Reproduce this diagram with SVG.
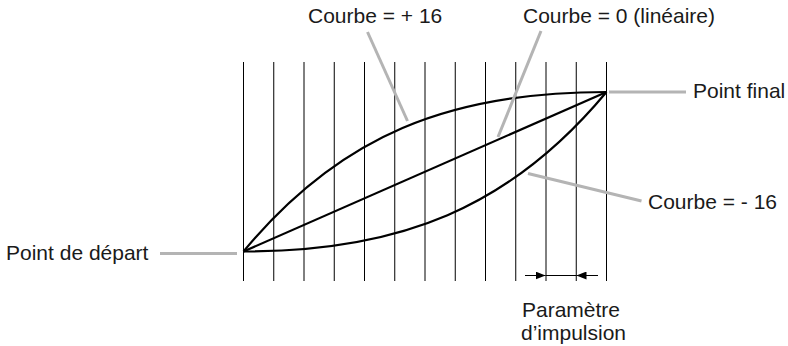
<svg xmlns="http://www.w3.org/2000/svg" width="788" height="346" viewBox="0 0 788 346">
  <defs>
    <style>
      .grid line { stroke: #000; stroke-width: 1; }
      .curve { fill: none; stroke: #000; stroke-width: 2.2; stroke-linejoin: round; }
      .leader { stroke: #b4b4b4; stroke-width: 3; fill: none; }
      .dim { stroke: #000; stroke-width: 1; fill: none; }
      .lbl { font-family: "Liberation Sans", Arial, sans-serif; font-size: 21px; fill: #1a1a1a; }
    </style>
    <marker id="ah" viewBox="0 0 10 8" refX="10" refY="4" markerWidth="10" markerHeight="8" markerUnits="userSpaceOnUse" orient="auto">
      <path d="M0,0 L10,4 L0,8 Z" fill="#000"/>
    </marker>
  </defs>
  <rect width="788" height="346" fill="#fff"/>

  <g id="grid" class="grid">
    <line x1="243.5" y1="62" x2="243.5" y2="281"/>
    <line x1="273.75" y1="62" x2="273.75" y2="281"/>
    <line x1="304" y1="62" x2="304" y2="281"/>
    <line x1="334.25" y1="62" x2="334.25" y2="281"/>
    <line x1="364.5" y1="62" x2="364.5" y2="281"/>
    <line x1="394.75" y1="62" x2="394.75" y2="281"/>
    <line x1="425" y1="62" x2="425" y2="281"/>
    <line x1="455.25" y1="62" x2="455.25" y2="281"/>
    <line x1="485.5" y1="62" x2="485.5" y2="281"/>
    <line x1="515.75" y1="62" x2="515.75" y2="281"/>
    <line x1="546" y1="62" x2="546" y2="281"/>
    <line x1="576.25" y1="62" x2="576.25" y2="281"/>
    <line x1="606.5" y1="62" x2="606.5" y2="281"/>
  </g>

  <g id="curves">
    <path id="curve-plus16" class="curve" d="M243.5,251.5 C340,135 450,92 606.5,92"/>
    <path id="curve-linear" class="curve" d="M243.5,251.5 L606.5,92"/>
    <path id="curve-minus16" class="curve" d="M243.5,251.5 C400,251.5 510,208 606.5,92"/>
  </g>

  <g id="connectors">
    <line class="leader" x1="367.5" y1="32" x2="407.5" y2="121"/>
    <line class="leader" x1="541" y1="31" x2="498" y2="137"/>
    <line class="leader" x1="528" y1="173.5" x2="641.5" y2="201"/>
    <line class="leader" x1="609" y1="92" x2="686" y2="92"/>
    <line class="leader" x1="160" y1="253.5" x2="237" y2="253.5"/>
    <line class="dim" x1="525" y1="275.5" x2="545.5" y2="275.5" marker-end="url(#ah)"/>
    <line class="dim" x1="545.5" y1="275.5" x2="576.5" y2="275.5"/>
    <line class="dim" x1="598" y1="275.5" x2="576.5" y2="275.5" marker-end="url(#ah)"/>
  </g>

  <g id="label-plus16"><text class="lbl" x="308" y="23">Courbe = + 16</text></g>
  <g id="label-linear"><text class="lbl" x="523" y="23">Courbe = 0 (linéaire)</text></g>
  <g id="label-final"><text class="lbl" x="693" y="98">Point final</text></g>
  <g id="label-minus16"><text class="lbl" x="648" y="209">Courbe = - 16</text></g>
  <g id="label-start"><text class="lbl" x="6" y="260">Point de départ</text></g>
  <g id="label-impulse">
    <text class="lbl" x="522" y="317">Paramètre</text>
    <text class="lbl" x="521" y="340">d’impulsion</text>
  </g>
</svg>
